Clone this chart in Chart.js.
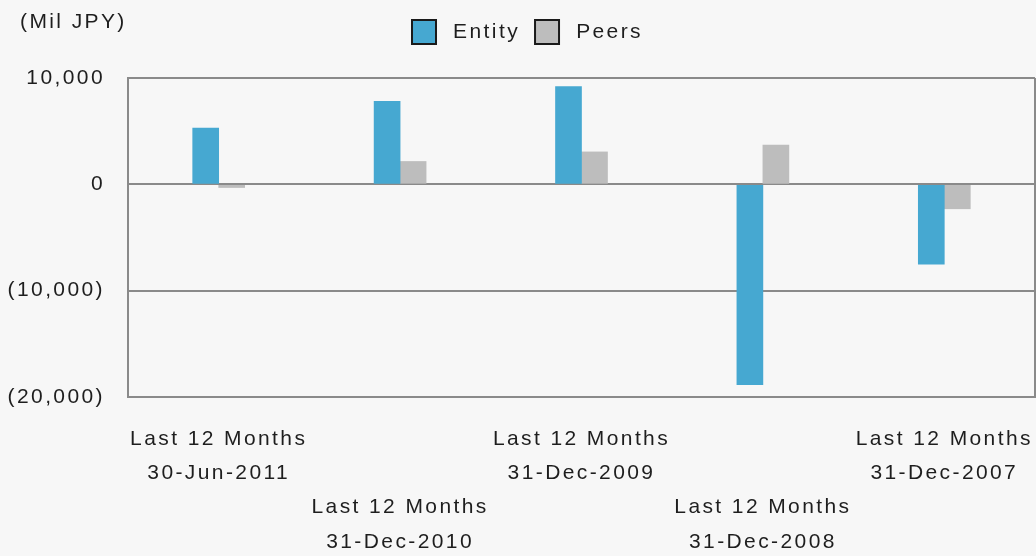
<!DOCTYPE html>
<html>
<head>
<meta charset="utf-8">
<script src="https://cdn.jsdelivr.net/npm/chart.js@4.4.1/dist/chart.umd.min.js"></script>
<style>
  html, body { margin: 0; padding: 0; background: #f7f7f7; }
  canvas { display: block; }
</style>
</head>
<body>
<canvas id="c" width="1036" height="556"></canvas>
<script>
// Period captions (two lines per category)
const periodLabel = 'Last 12 Months';
const periodEnds = ['30-Jun-2011', '31-Dec-2010', '31-Dec-2009', '31-Dec-2008', '31-Dec-2007'];

// Series values, Mil JPY
const entityValues = [5300, 7800, 9200, -18850, -7500];
const peersValues = [-300, 2150, 3050, 3700, -2300];

// Value axis ticks
const yTickValues = [10000, 0, -10000, -20000];
const unitLabel = '(Mil JPY)';

const TEXT = '#1e1e1e';
const GRID = '#8a8a8a';
const FONT_FAMILY = '"Liberation Sans", Arial, Helvetica, sans-serif';
const SPACING = '2.4px';
const AXIS_LEFT = 128;     // x pixel of the plot's left edge
const LEGEND_SHIFT = 10;   // legend row sits a little right of the canvas centre

function formatValue(v) {
  const s = Math.abs(v).toLocaleString('en-US');
  return v < 0 ? '(' + s + ')' : s;
}

// Tracking for all canvas text, fixed legend band, right frame edge and unit caption
const chartSetup = {
  id: 'chartSetup',
  afterInit(chart) { chart.ctx.letterSpacing = SPACING; },
  beforeLayout(chart) {
    chart.ctx.letterSpacing = SPACING;
    const lg = chart.legend;
    if (lg && !lg._bandFixed) {
      const fit = lg.fit;
      lg.fit = function () { fit.call(this); this.height = 73; };
      lg._bandFixed = true;
    }
  },
  afterLayout(chart) {
    const lg = chart.legend;
    if (lg) { lg.left += LEGEND_SHIFT; lg.right += LEGEND_SHIFT; }
  },
  beforeDraw(chart) { chart.ctx.letterSpacing = SPACING; },
  afterDraw(chart) {
    const { ctx, chartArea: a } = chart;
    ctx.save();
    ctx.strokeStyle = GRID;
    ctx.lineWidth = 2;
    ctx.beginPath();
    ctx.moveTo(a.right, a.top);
    ctx.lineTo(a.right, a.bottom);
    ctx.stroke();
    ctx.fillStyle = TEXT;
    ctx.font = '21px ' + FONT_FAMILY;
    ctx.textAlign = 'left';
    ctx.textBaseline = 'middle';
    ctx.fillText(unitLabel, 20, 22);
    ctx.restore();
  }
};

Chart.defaults.font.family = FONT_FAMILY;
Chart.defaults.font.size = 21;
Chart.defaults.color = TEXT;

new Chart(document.getElementById('c'), {
  type: 'bar',
  data: {
    labels: periodEnds,
    datasets: [
      { label: 'Entity', data: entityValues, backgroundColor: '#46a8d1', borderWidth: 0, barThickness: 26 },
      { label: 'Peers', data: peersValues, backgroundColor: '#bdbdbd', borderWidth: 0, barThickness: 26 }
    ]
  },
  options: {
    responsive: false,
    animation: false,
    layout: { padding: { top: 5, right: 1, left: 0, bottom: 0 } },
    plugins: {
      tooltip: { enabled: false },
      legend: {
        position: 'top',
        labels: {
          boxWidth: 24,
          boxHeight: 24,
          padding: 15,
          color: TEXT,
          font: { size: 21 },
          generateLabels(chart) {
            return Chart.defaults.plugins.legend.labels.generateLabels(chart).map(item => ({
              ...item, text: '\u2009' + item.text, strokeStyle: '#1a1a1a', lineWidth: 2
            }));
          }
        }
      }
    },
    scales: {
      x: {
        grid: { display: false, drawTicks: false },
        border: { display: true, color: GRID, width: 2 },
        ticks: {
          autoSkip: false,
          maxRotation: 0,
          minRotation: 0,
          padding: 25,
          color: TEXT,
          font: { size: 21, lineHeight: 1.63 },
          callback(value, index) {
            return index % 2 === 0
              ? [periodLabel, periodEnds[index]]
              : ['', '', periodLabel, periodEnds[index]];
          }
        },
        afterFit(scale) {
          scale.height = 159;
          scale.paddingLeft = 0;
          scale.paddingRight = 0;
        }
      },
      y: {
        min: -20000,
        max: 10000,
        grid: { color: GRID, lineWidth: 2, drawTicks: false },
        border: { display: true, color: GRID, width: 2 },
        ticks: {
          padding: 23,
          color: TEXT,
          font: { size: 21 },
          callback: v => formatValue(v)
        },
        afterBuildTicks(scale) { scale.ticks = yTickValues.map(v => ({ value: v })); },
        afterFit(scale) { scale.width = AXIS_LEFT; }
      }
    }
  },
  plugins: [chartSetup]
});
</script>
</body>
</html>
